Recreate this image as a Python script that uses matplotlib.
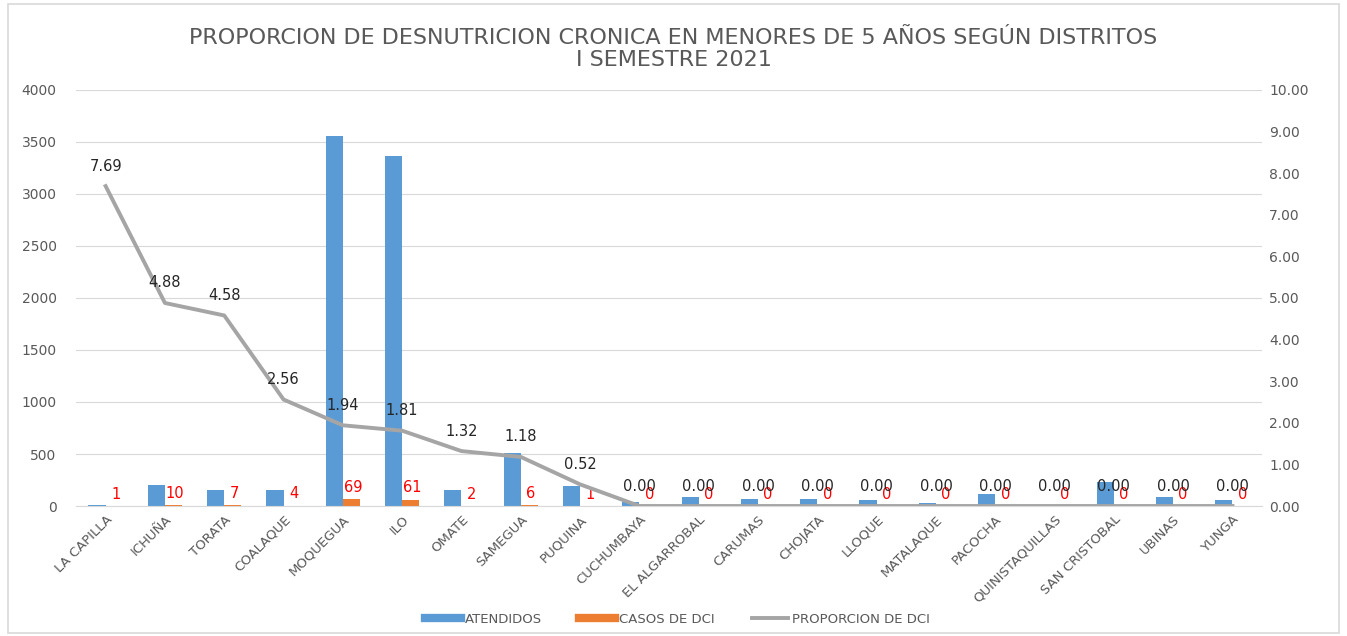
import matplotlib.pyplot as plt
import numpy as np
from matplotlib.lines import Line2D

plt.rcParams["font.family"] = ["DejaVu Sans"]

districts = [
    "LA CAPILLA", "ICHUÑA", "TORATA", "COALAQUE", "MOQUEGUA", "ILO", "OMATE",
    "SAMEGUA", "PUQUINA", "CUCHUMBAYA", "EL ALGARROBAL", "CARUMAS", "CHOJATA",
    "LLOQUE", "MATALAQUE", "PACOCHA", "QUINISTAQUILLAS", "SAN CRISTOBAL",
    "UBINAS", "YUNGA",
]
atendidos = [13, 205, 153, 156, 3557, 3370, 152, 508, 192, 40, 90, 70, 64,
             58, 32, 115, 0, 230, 83, 58]
casos = [1, 10, 7, 4, 69, 61, 2, 6, 1, 0, 0, 0, 0, 0, 0, 0, 0, 0, 0, 0]
proporcion = [7.69, 4.88, 4.58, 2.56, 1.94, 1.81, 1.32, 1.18, 0.52, 0.00,
              0.00, 0.00, 0.00, 0.00, 0.00, 0.00, 0.00, 0.00, 0.00, 0.00]

BLUE = "#5B9BD5"
ORANGE = "#ED7D31"
GRAY_LINE = "#A5A5A5"
TXT = "#595959"

fig = plt.figure(figsize=(13.47, 6.36), dpi=100)
fig.patches.append(plt.Rectangle((0.006, 0.004), 0.988, 0.99, transform=fig.transFigure,
                                 fill=False, edgecolor="#D9D9D9", linewidth=1.2))
ax = fig.add_axes([0.0564, 0.2044, 0.8806, 0.6541])
ax2 = ax.twinx()

x = np.arange(len(districts))
w = 0.29
ax.bar(x - w / 2, atendidos, w, color=BLUE, zorder=2)
ax.bar(x + w / 2, casos, w, color=ORANGE, zorder=2)

# red labels for DCI cases sit above the orange bars
for xi, c in zip(x, casos):
    ax.annotate(str(c), (xi + w / 2, c), xytext=(1, 3), textcoords="offset points",
                ha="center", va="bottom", color="#FF0000", fontsize=10.5, zorder=5)

ax.set_ylim(0, 4000)
ax.set_yticks(np.arange(0, 4001, 500))
ax.set_xlim(-0.5, len(districts) - 0.5)
ax.set_xticks(x)
ax.set_xticklabels(districts, rotation=45, ha="right", rotation_mode="anchor",
                   fontsize=9.5, color=TXT)
ax.grid(axis="y", color="#D9D9D9", linewidth=0.8, zorder=0)
ax.set_axisbelow(True)
ax.tick_params(axis="y", length=0, labelsize=10, labelcolor=TXT, pad=14)
ax.tick_params(axis="x", length=0, pad=5)

ax2.plot(x, proporcion, color=GRAY_LINE, linewidth=2.8, zorder=3)
for xi, p in zip(x, proporcion):
    ax2.annotate(f"{p:.2f}", (xi, p), xytext=(0, 9), textcoords="offset points",
                 ha="center", va="bottom", color="#262626", fontsize=10.5, zorder=5)
ax2.set_ylim(0, 10)
ax2.set_yticks(np.arange(0, 10.01, 1))
ax2.set_yticklabels([f"{v:.2f}" for v in np.arange(0, 10.01, 1)])
ax2.tick_params(axis="y", length=0, labelsize=10, labelcolor=TXT, pad=5)

for a in (ax, ax2):
    for s in a.spines.values():
        s.set_visible(False)
ax.spines["bottom"].set_visible(True)
ax.spines["bottom"].set_color("#D9D9D9")

fig.text(0.5, 0.923, "PROPORCION DE DESNUTRICION CRONICA EN MENORES DE 5 AÑOS SEGÚN DISTRITOS\nI SEMESTRE 2021",
         ha="center", va="center", fontsize=16, color=TXT, linespacing=1.12)

handles = [
    Line2D([], [], color=BLUE, linewidth=6),
    Line2D([], [], color=ORANGE, linewidth=6),
    Line2D([], [], color=GRAY_LINE, linewidth=2.8),
]
fig.legend(handles, ["ATENDIDOS", "CASOS DE DCI", "PROPORCION DE DCI"],
           loc="center", bbox_to_anchor=(0.503, 0.026), ncol=3, frameon=False,
           fontsize=9.5, labelcolor=TXT, handlelength=2.7, columnspacing=2.8,
           handletextpad=0.35)

fig.savefig("out.png", dpi=100)
